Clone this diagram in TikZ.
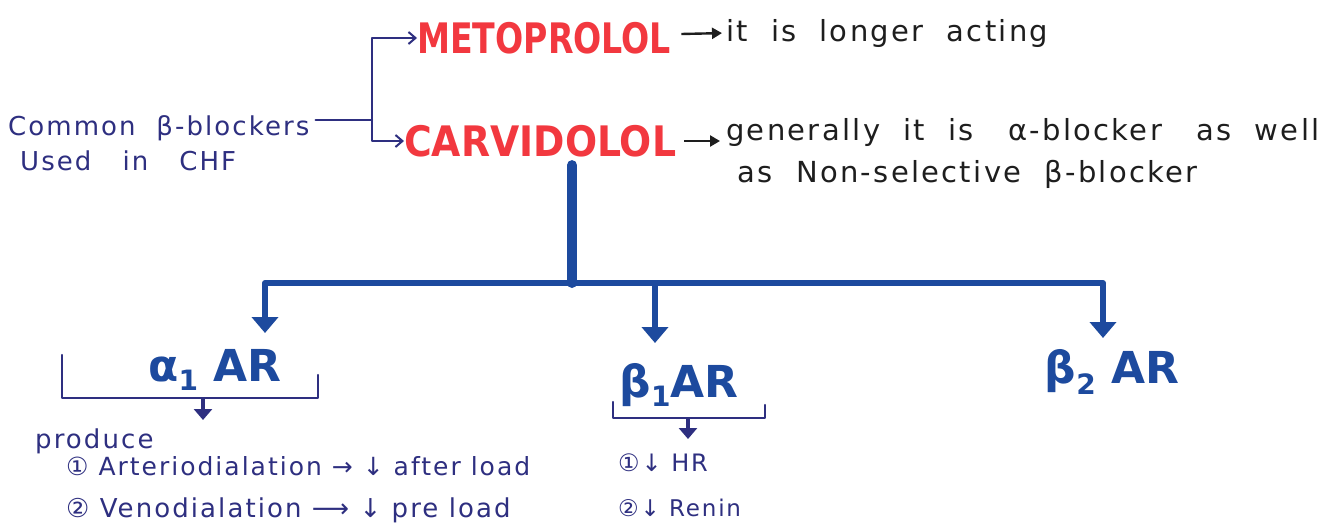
\documentclass[tikz,border=0pt]{standalone}
\usepackage{fontspec}
\setmainfont{DejaVu Sans}
\newfontfamily\hand{DejaVu Sans}[LetterSpace=8]
\usetikzlibrary{arrows.meta}
\definecolor{ink}{HTML}{2E2F80}
\definecolor{royal}{HTML}{1D4A9E}
\definecolor{drug}{HTML}{F2383F}
\definecolor{pen}{HTML}{1E1E1E}
\tikzset{
  inktext/.style={text=ink, font=\hand\fontsize{26}{30}\selectfont, inner sep=0pt, anchor=west},
  pentext/.style={text=pen, font=\hand\fontsize{29}{34}\selectfont, inner sep=0pt, anchor=west},
  drugname/.style={text=drug, font=\bfseries\fontsize{42}{46}\selectfont, inner sep=0pt, anchor=west},
  receptor/.style={text=royal, font=\bfseries\fontsize{44}{48}\selectfont, inner sep=0pt},
  inkline/.style={draw=ink, line width=2.2pt, line cap=round, line join=round},
  inkarrow/.style={inkline, -{Straight Barb[length=7pt,width=12pt,line width=2pt]}},
  penarrow/.style={draw=pen, line width=2.4pt, -{Triangle[length=10pt,width=11pt]}},
  trunk/.style={draw=royal, line width=10pt, line cap=round},
  branch/.style={draw=royal, line width=6pt, line cap=round, line join=round},
  drop/.style={draw=royal, line width=6pt, -{Triangle[length=16pt,width=26pt]}},
  smalldrop/.style={draw=ink, line width=4pt, -{Triangle[length=11pt,width=18pt]}}
}
\begin{document}
\begin{tikzpicture}[x=1pt,y=-1pt]
\useasboundingbox (0,0) rectangle (1338,531);
\fill[white] (0,0) rectangle (1338,531);

% left caption
\node[inktext] (common) at (8,128) {Common \ β-blockers};
\node[inktext] (used) at (20,161) {Used \ \ in \ \ CHF};

% the two drugs
\node[drugname] (meto) at (417,38) {\scalebox{0.79}[1]{METOPROLOL}};
\node[drugname] (carv) at (404,141) {\scalebox{0.9}[1]{CARVIDOLOL}};

% remarks
\node[pentext] (metonote) at (726,33) {it \ is \ longer \ acting};
\node[pentext, align=left, anchor=north west] (carvnote) at (726,118)
  {generally \ it \ is \ \ α-blocker \ \ as \ well\\[8pt] \ as \ Non-selective \ β-blocker};

% fork from the caption to the drugs
\coordinate (fork) at (372,120);
\draw[inkline] (common.east) ++(6,-8) -- (fork);
\draw[inkarrow] (fork) |- (meto.west);
\draw[inkarrow] (fork) |- (carv.west);

\draw[penarrow, shorten >=4pt] (meto.east) ++(10,-4) -- (metonote.west);
\draw[penarrow, shorten >=6pt] (carv.east) ++(8,0) -- (carvnote.west |- carv.east);

% receptors
\node[receptor] (alpha) at (215,370) {α\raisebox{-9pt}{\fontsize{28}{28}\selectfont 1}\ AR};
\node[receptor] (beta1) at (679,385) {β\raisebox{-9pt}{\fontsize{28}{28}\selectfont 1}AR};
\node[receptor] (beta2) at (1112,372) {β\raisebox{-11pt}{\fontsize{28}{28}\selectfont 2}\ AR};

% distribution bar
\coordinate (hub) at (572,283);
\coordinate (dropA) at (265,283);
\coordinate (dropB) at (655,283);
\coordinate (dropC) at (1103,283);
\coordinate (tipA) at (265,333);
\coordinate (tipB) at (655,343);
\coordinate (tipC) at (1103,338);
\draw[trunk] (carv.south -| hub) ++(0,8) -- (hub);
\draw[branch] (dropA) -- (dropC);
\draw[drop] (dropA) -- (tipA);
\draw[drop] (dropB) -- (tipB);
\draw[drop] (dropC) -- (tipC);

% effects of alpha1 blockade
\draw[inkline] (62,355) -- (62,398) -- (318,398) -- (318,375);
\coordinate (abrk) at (203,398);
\coordinate (atip) at (203,420);
\node[inktext] (produce) at (35,441) {produce};
\node[inktext, font=\hand\fontsize{25}{30}\selectfont] (art) at (66,466) {① Arteriodialation → ↓ after load};
\node[inktext] (ven) at (66,510) {② Venodialation ⟶ ↓ pre load};
\draw[smalldrop] (abrk) -- (atip);

% effects of beta1 blockade
\draw[inkline] (613,402) -- (613,418) -- (765,418) -- (765,405);
\coordinate (bbrk) at (688,418);
\coordinate (btip) at (688,439);
\node[inktext, font=\hand\fontsize{24}{28}\selectfont] (hr) at (618,463) {①↓ HR};
\node[inktext, font=\hand\fontsize{23}{28}\selectfont] (renin) at (618,508) {②↓ Renin};
\draw[smalldrop] (bbrk) -- (btip);
\end{tikzpicture}
\end{document}
